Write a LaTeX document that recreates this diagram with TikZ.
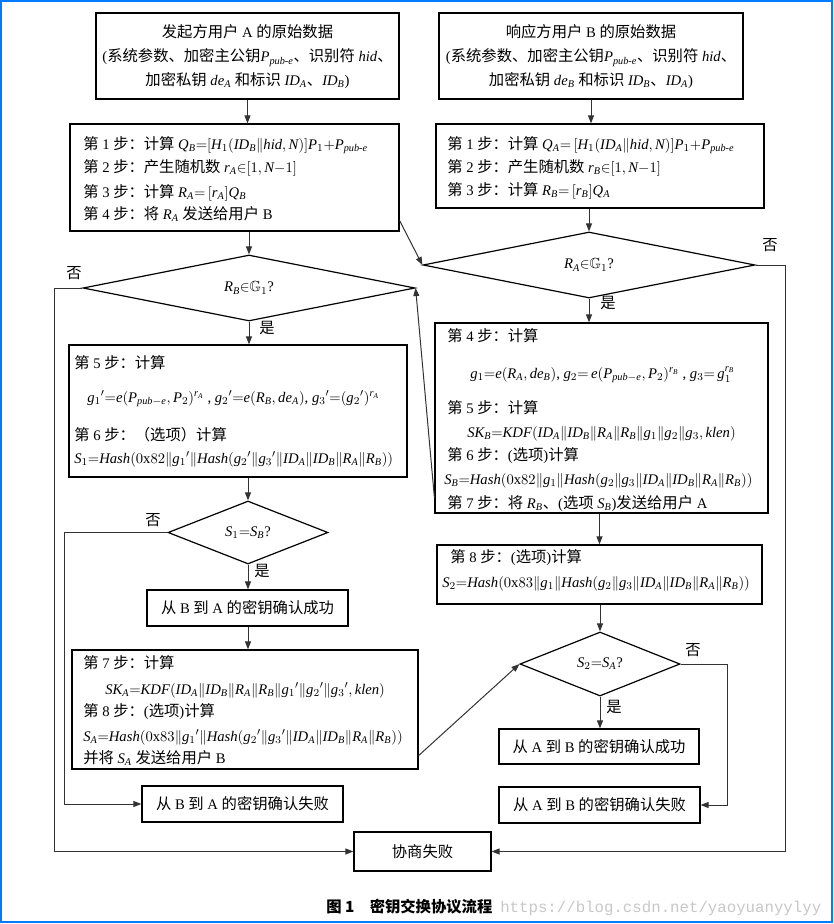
\documentclass[tikz,border=0pt]{standalone}
\usepackage{amsmath}
\usepackage{amssymb}
\usepackage{fontspec}
\setmainfont{Liberation Serif}
\setmonofont{Liberation Mono}
\newfontfamily\cjk[Scale=1.045]{Noto Sans CJK SC}
\DeclareSymbolFont{tletters}{TU}{\rmdefault}{m}{it}
\def\setml#1{\Umathcode`#1="7 \symtletters `#1\relax}
\setml a\setml b\setml c\setml d\setml e\setml f\setml g\setml h\setml i\setml j\setml k\setml l\setml m
\setml n\setml o\setml p\setml q\setml r\setml s\setml t\setml u\setml v\setml w\setml x\setml y\setml z
\setml A\setml B\setml C\setml D\setml E\setml F\setml G\setml H\setml I\setml J\setml K\setml L\setml M
\setml N\setml O\setml P\setml Q\setml R\setml S\setml T\setml U\setml V\setml W\setml X\setml Y\setml Z
\usetikzlibrary{arrows.meta,shapes.geometric,fit,calc}
\definecolor{frameblue}{RGB}{0,122,255}
\newcommand\zh[1]{{\cjk #1}}
\newcommand\stp[1]{\zh{第} #1 \zh{步：}}
\newcommand\mID{\mathit{ID}}
\newcommand\mhid{\mathit{hid}}
\newcommand\mHash{\mathit{Hash}}
\newcommand\mKDF{\mathit{KDF}}
\newcommand\mklen{\mathit{klen}}
\newcommand\mSK{\mathit{SK}}
\newcommand\Ppub{P_{\mathit{pub}\text{-}e}}
\newcommand\Ppubm{P_{\mathit{pub}-e}}
\newcommand\gp[1]{{g_{#1}}'}
\begin{document}
\begin{tikzpicture}[x=0.75pt,y=-0.75pt,
  every node/.style={font=\fontsize{11}{13}\selectfont},
  box/.style={draw=black, line width=0.9pt, inner sep=0pt, fit={#1}},
  dia/.style={diamond, draw=black, line width=0.9pt, inner sep=0pt, aspect=5},
  txt/.style={anchor=base west, inner sep=0pt},
  ctxt/.style={anchor=base, inner sep=0pt},
  mtxt/.style={inner sep=0pt},
  yn/.style={inner sep=0pt},
  arr/.style={-{Triangle[length=6pt,width=4.5pt]}, line width=0.75pt, draw=black!80}]
\useasboundingbox (0,0) rectangle (833,924);
\draw[frameblue, line width=1.5pt] (1,1) rectangle (832,922);

% boxes
\node[box={(96,13)(399,99)}] (boxA) {};
\node[box={(439,13)(743,99)}] (boxB) {};
\node[box={(70,124)(399,231)}] (stepA) {};
\node[box={(436,124)(764,208)}] (stepB) {};
\node[box={(69,345)(407,477)}] (step5A) {};
\node[box={(435,323)(768,513)}] (step4B) {};
\node[box={(147,590)(348,626)}] (successBA) {};
\node[box={(72,650)(418,769)}] (step7A) {};
\node[box={(437,545)(762,604)}] (step8B) {};
\node[box={(499,729)(699,764)}] (successAB) {};
\node[box={(499,787)(700,823)}] (failAB) {};
\node[box={(142,786)(343,822)}] (failBA) {};
\node[box={(354,832)(491,871)}] (nego) {};
\node[mtxt] (tsBA) at (successBA.center) {\zh{从} B \zh{到} A \zh{的密钥确认成功}};
\node[mtxt] (tsAB) at (successAB.center) {\zh{从} A \zh{到} B \zh{的密钥确认成功}};
\node[mtxt] (tfAB) at (failAB.center) {\zh{从} A \zh{到} B \zh{的密钥确认失败}};
\node[mtxt] (tfBA) at (failBA.center) {\zh{从} B \zh{到} A \zh{的密钥确认失败}};
\node[mtxt] (tneg) at (nego.center) {\zh{协商失败}};

% diamonds
\node[dia, minimum width=249pt, minimum height=49.5pt] (dRB) at (249,288) {$R_B{\in}\mathbb{G}_1$?};
\node[dia, minimum width=249pt, minimum height=49.5pt] (dRA) at (589,265) {$R_A{\in}\mathbb{G}_1$?};
\node[dia, aspect=2.5, minimum width=120pt, minimum height=47.25pt] (dS1) at (248,532.5) {$S_1{=}S_B$?};
\node[dia, aspect=2.5, minimum width=120pt, minimum height=48pt] (dS2) at (600,664) {$S_2{=}S_A$?};

% texts of box A / B
\node[ctxt] (a1) at (247.5,38) {\zh{发起方用户} A \zh{的原始数据}};
\node[ctxt] (a2) at (247.5,62) {(\zh{系统参数、加密主公钥}$\Ppub$\zh{、识别符} $\mhid$\zh{、}};
\node[ctxt] (a3) at (247.5,85) {\zh{加密私钥} $de_A$ \zh{和标识} $\mID_A$\zh{、}$\mID_B$)};
\node[ctxt] (b1) at (591,38) {\zh{响应方用户} B \zh{的原始数据}};
\node[ctxt] (b2) at (591,62) {(\zh{系统参数、加密主公钥}$\Ppub$\zh{、识别符} $\mhid$\zh{、}};
\node[ctxt] (b3) at (591,85) {\zh{加密私钥} $de_B$ \zh{和标识} $\mID_B$\zh{、}$\mID_A$)};

% step A
\node[txt] (sa1) at (83,149) {\stp{1}\zh{计算} $Q_B{=}[H_1(\mID_B\|\mhid, N)]P_1{+}\Ppub$};
\node[txt] (sa2) at (83,172) {\stp{2}\zh{产生随机数} $r_A{\in}[1, N{-}1]$};
\node[txt] (sa3) at (83,197) {\stp{3}\zh{计算} $R_A{=}\,[r_A]Q_B$};
\node[txt] (sa4) at (83,219) {\stp{4}\zh{将} $R_A$ \zh{发送给用户} B};

% step B
\node[txt] (sb1) at (447,149) {\stp{1}\zh{计算} $Q_A{=}\,[H_1(\mID_A\|\mhid, N)]P_1{+}\Ppub$};
\node[txt] (sb2) at (447,172) {\stp{2}\zh{产生随机数} $r_B{\in}[1, N{-}1]$};
\node[txt] (sb3) at (447,195) {\stp{3}\zh{计算} $R_B{=}\,[r_B]Q_A$};

% step 5 A
\node[txt] (s5a1) at (74,368) {\stp{5}\zh{计算}};
\node[txt] (s5a2) at (87,402) {$\gp{1}{=}e(\Ppubm, P_2)^{r_A}$ , $\gp{2}{=}e(R_B, de_A)$, $\gp{3}{=}(\gp{2})^{r_A}$};
\node[txt] (s5a3) at (74,440) {\stp{6}\zh{（选项）计算}};
\node[txt] (s5a4) at (74,463) {$S_1{=}\mHash(0\mathrm{x}82\|\gp{1}\|\mHash(\gp{2}\|\gp{3}\|\mID_A\|\mID_B\|R_A\|R_B))$};

% step 4 B
\node[txt] (s4b1) at (447,341) {\stp{4}\zh{计算}};
\node[txt] (s4b2) at (470,378) {$g_1{=}e(R_A, de_B)$, $g_2{=}\,e(\Ppubm, P_2)^{r_B}$ , $g_3{=}\,g_1^{r_B}$};
\node[txt] (s4b3) at (447,413) {\stp{5}\zh{计算}};
\node[txt] (s4b4) at (467,437) {$\mSK_B{=}\mKDF(\mID_A\|\mID_B\|R_A\|R_B\|g_1\|g_2\|g_3, \mklen)$};
\node[txt] (s4b5) at (447,460) {\stp{6}(\zh{选项})\zh{计算}};
\node[txt] (s4b6) at (444,484) {$S_B{=}\mHash(0\mathrm{x}82\|g_1\|\mHash(g_2\|g_3\|\mID_A\|\mID_B\|R_A\|R_B))$};
\node[txt] (s4b7) at (447,508) {\stp{7}\zh{将} $R_B$\zh{、}(\zh{选项} $S_B$)\zh{发送给用户} A};

% step 7 A
\node[txt] (s7a1) at (83,668) {\stp{7}\zh{计算}};
\node[txt] (s7a2) at (105,694) {$\mSK_A{=}\mKDF(\mID_A\|\mID_B\|R_A\|R_B\|\gp{1}\|\gp{2}\|\gp{3}, \mklen)$};
\node[txt] (s7a3) at (83,716) {\stp{8}(\zh{选项})\zh{计算}};
\node[txt] (s7a4) at (83,741) {$S_A{=}\mHash(0\mathrm{x}83\|\gp{1}\|\mHash(\gp{2}\|\gp{3}\|\mID_A\|\mID_B\|R_A\|R_B))$};
\node[txt] (s7a5) at (83,763) {\zh{并将} $S_A$ \zh{发送给用户} B};

% step 8 B
\node[txt] (s8b1) at (450,562) {\stp{8}(\zh{选项})\zh{计算}};
\node[txt] (s8b2) at (442,587) {$S_2{=}\mHash(0\mathrm{x}83\|g_1\|\mHash(g_2\|g_3\|\mID_A\|\mID_B\|R_A\|R_B))$};

% yes / no labels
\node[yn] (n1) at (74,273) {\zh{否}};
\node[yn] (y1) at (267,328) {\zh{是}};
\node[yn] (n2) at (770,245) {\zh{否}};
\node[yn] (y2) at (608,303) {\zh{是}};
\node[yn] (n3) at (153,520) {\zh{否}};
\node[yn] (y3) at (262,571) {\zh{是}};
\node[yn] (n4) at (693,650) {\zh{否}};
\node[yn] (y4) at (614,707) {\zh{是}};

% connectors
\draw[arr] (boxA.south) -- (boxA.south |- stepA.north);
\draw[arr] (boxB.south) -- (boxB.south |- stepB.north);
\draw[arr] (dRB.north |- stepA.south) -- (dRB.north);
\draw[arr] (dRA.north |- stepB.south) -- (dRA.north);
\draw[arr] ($(stepA.south east)+(0,-11)$) -- (dRA.west);
\draw[arr] (dRB.south) -- (dRB.south |- step5A.north);
\draw[arr] ($(step4B.south west)+(0,-16)$) -- (dRB.east);
\draw[arr] (dRA.south) -- (dRA.south |- step4B.north);
\draw[arr] (step8B.north |- step4B.south) -- (step8B.north);
\draw[arr] (dS1.north |- step5A.south) -- (dS1.north);
\draw[arr] (dS1.south) -- (dS1.south |- successBA.north);
\draw[arr] (dS1.south |- successBA.south) -- (dS1.south |- step7A.north);
\draw[arr] ($(step7A.south east)+(0,-14)$) -- (dS2.west);
\draw[arr] (dS2.north |- step8B.south) -- (dS2.north);
\draw[arr] (dS2.south) -- (dS2.south |- successAB.north);
\draw[arr] (dS2.east) -- ++(47,0) |- (failAB.east);
\draw[arr] (dS1.west) -- ++(-103,0) |- (failBA.west);
\draw[arr] (dRB.west) -- ++(-28,0) |- (nego.west);
\draw[arr] (dRA.east) -- ++(30,0) |- (nego.east);

% caption and watermark
\node[anchor=base west, inner sep=0pt, font=\fontsize{11}{13}\selectfont] (cap) at (326,912) {\cjk\bfseries 图 1\quad 密钥交换协议流程};
\node[anchor=base west, inner sep=0pt, text=black!22, font=\ttfamily\fontsize{11.8}{14}\selectfont] (wm) at (500,912) {https://blog.csdn.net/yaoyuanyylyy};
\end{tikzpicture}
\end{document}
